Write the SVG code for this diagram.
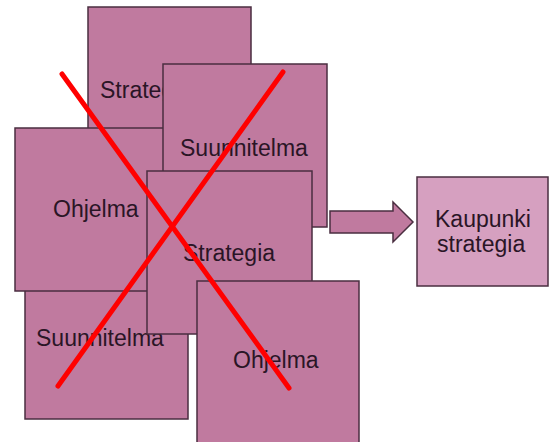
<svg xmlns="http://www.w3.org/2000/svg" width="553" height="442" viewBox="0 0 553 442">
<style>
.box{fill:#c07a9f;stroke:#4a2e40;stroke-width:1.5}
.light{fill:#d6a0c0;stroke:#4a2e40;stroke-width:1.5}
.t{font-family:"Liberation Sans",Arial,sans-serif;font-size:23px;fill:#2a1526}
.x{stroke:#ff0000;stroke-width:5;stroke-linecap:round;fill:none}
</style>
<rect width="553" height="442" fill="#ffffff"/>
<g id="strategia-top"><rect class="box" x="88" y="7" width="163" height="163"/><text class="t" x="100" y="98">Strategia</text></g>
<g id="suunnitelma-bottom"><rect class="box" x="25" y="256" width="163" height="163"/><text class="t" x="36" y="346">Suunnitelma</text></g>
<g id="ohjelma-left"><rect class="box" x="15" y="128" width="163" height="163"/><text class="t" x="53" y="217">Ohjelma</text></g>
<g id="suunnitelma-top"><rect class="box" x="163" y="64" width="164" height="163"/><text class="t" x="180" y="156">Suunnitelma</text></g>
<g id="strategia-mid"><rect class="box" x="147" y="171" width="165" height="163"/><text class="t" x="183" y="261">Strategia</text></g>
<g id="ohjelma-bottom"><rect class="box" x="197" y="281" width="162" height="163"/><text class="t" x="233" y="368">Ohjelma</text></g>
<g id="kaupunki-strategia"><rect class="light" x="417" y="177" width="131" height="109"/><text class="t" x="435" y="227">Kaupunki</text><text class="t" x="437" y="252">strategia</text></g>
<g id="connectors">
<polygon class="box" points="330,211 393,211 393,202 413,222 393,242 393,233 330,233"/>
</g>
<g id="cross">
<line class="x" x1="62" y1="74" x2="289" y2="388"/>
<line class="x" x1="283" y1="72" x2="58" y2="386"/>
</g>
</svg>
